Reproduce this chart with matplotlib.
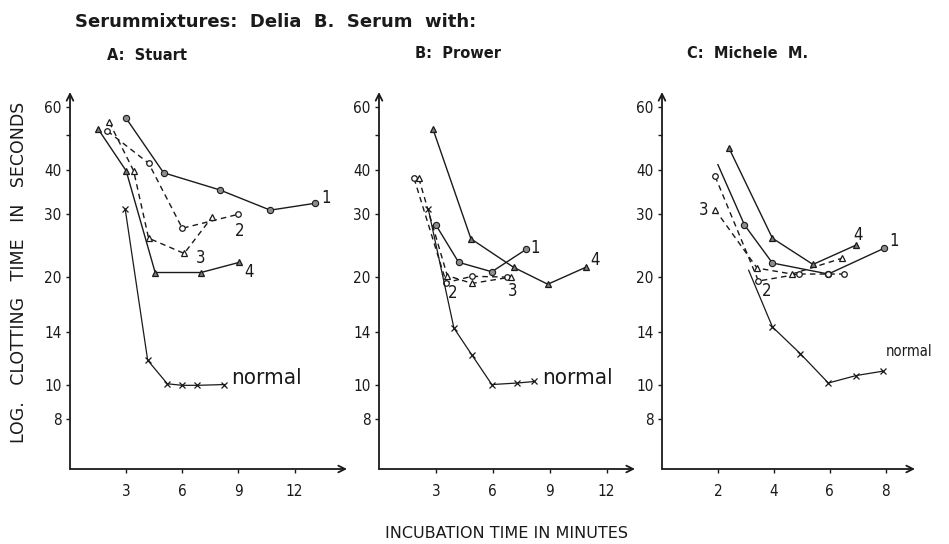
import matplotlib
matplotlib.use("Agg")
import matplotlib.pyplot as plt
from matplotlib.ticker import FixedLocator, NullLocator

# Panel A: Stuart
a_x1 = [3, 5, 8, 10.7, 13.1]
a_y1 = [55.7, 39.2, 35.1, 30.8, 32.2]
a_x2 = [2, 4.2, 6, 9]
a_y2 = [51.3, 41.7, 27.4, 30.0]
a_x3 = [2.1, 3.4, 4.2, 6.1, 7.6]
a_y3 = [54.3, 39.7, 25.7, 23.3, 29.5]
a_x4 = [1.5, 3.0, 4.55, 7.0, 9.05]
a_y4 = [52.0, 39.7, 20.6, 20.6, 22.0]
a_xn = [2.95, 4.15, 5.2, 6.0, 6.8, 8.25]
a_yn = [31.0, 11.7, 10.05, 9.95, 9.95, 10.0]

# Panel B: Prower
b_x1 = [3, 4.2, 5.95, 7.75]
b_y1 = [28.0, 22.0, 20.7, 23.9]
b_x2 = [1.85, 3.55, 4.9, 6.75]
b_y2 = [37.8, 19.3, 20.1, 20.0]
b_x3 = [2.1, 3.6, 4.9, 6.95]
b_y3 = [37.8, 20.2, 19.2, 20.0]
b_x4 = [2.85, 4.85, 7.1, 8.9, 10.9]
b_y4 = [51.9, 25.6, 21.3, 19.1, 21.3]
b_xn = [2.6, 3.95, 4.9, 5.95, 7.3, 8.2]
b_yn = [31.0, 14.4, 12.1, 10.0, 10.1, 10.2]

# Panel C: Michele M.
c_x1 = [2.0, 2.95, 3.95, 5.95, 7.95]
c_y1 = [41.3, 28.0, 21.9, 20.4, 24.1]
c_x2 = [1.9, 3.45, 4.9, 5.95, 6.5]
c_y2 = [38.3, 19.5, 20.4, 20.4, 20.4]
c_x3 = [1.9, 3.4, 4.65, 6.45]
c_y3 = [30.9, 21.2, 20.4, 22.6]
c_x4 = [2.4, 3.95, 5.4, 6.95]
c_y4 = [45.9, 25.7, 21.7, 24.6]
c_xn = [3.1, 3.95, 4.95, 5.95, 6.95, 7.9]
c_yn = [20.9, 14.5, 12.2, 10.1, 10.6, 10.9]

y_ticks = [8, 10, 14, 20, 30, 40, 60]
ab_xticks = [3, 6, 9, 12]
c_xticks = [2, 4, 6, 8]

ink = "#1a1a1a"
tick_font = dict(family="DejaVu Sans", stretch="condensed", size=11, color=ink)

fig = plt.figure(figsize=(9.49, 5.44), dpi=100)


def draw_series(ax, x, y, kind, skip_first=False):
    me = list(range(1, len(x))) if skip_first else None
    if kind == 1:
        ax.plot(x, y, "-", color=ink, lw=1.0, marker="o", ms=4.5, mfc="#8c8c8c",
                mec=ink, mew=0.8, markevery=me)
    elif kind == 2:
        ax.plot(x, y, "--", color=ink, lw=1.0, dashes=(4, 3), marker="o", ms=4,
                mfc="white", mec=ink, mew=0.9, markevery=me)
    elif kind == 3:
        ax.plot(x, y, "--", color=ink, lw=1.0, dashes=(4, 3), marker="^", ms=5,
                mfc="white", mec=ink, mew=0.9, markevery=me)
    elif kind == 4:
        ax.plot(x, y, "-", color=ink, lw=1.0, marker="^", ms=5, mfc="#7a7a7a",
                mec=ink, mew=0.9, markevery=me)
    else:
        ax.plot(x, y, "-", color=ink, lw=0.9, marker="x", ms=4, mec=ink, mew=0.9,
                markevery=me)


def setup(rect, xmax, xticks):
    ax = fig.add_axes(rect)
    ax.set_yscale("log")
    ax.set_ylim(5.8, 66)
    ax.set_xlim(0, xmax)
    for s in ax.spines.values():
        s.set_visible(False)
    ax.annotate("", xy=(1, 0), xytext=(0, 0), xycoords="axes fraction",
                arrowprops=dict(arrowstyle="->", color=ink, lw=1.3,
                                shrinkA=0, shrinkB=0, mutation_scale=12))
    ax.annotate("", xy=(0, 1), xytext=(0, 0), xycoords="axes fraction",
                arrowprops=dict(arrowstyle="->", color=ink, lw=1.3,
                                shrinkA=0, shrinkB=0, mutation_scale=12))
    ax.yaxis.set_major_locator(FixedLocator(y_ticks))
    ax.yaxis.set_minor_locator(FixedLocator([50]))
    ax.set_yticklabels([str(v) for v in y_ticks], fontdict=tick_font)
    ax.set_xticks(xticks)
    ax.set_xticklabels([str(v) for v in xticks], fontdict=tick_font)
    ax.xaxis.set_minor_locator(NullLocator())
    ax.tick_params(axis="both", which="both", length=3, width=1, color=ink)
    ax.tick_params(axis="x", pad=8)
    ax.tick_params(axis="y", pad=3)
    ax.set_facecolor("none")
    return ax


lab = dict(family="DejaVu Sans", stretch="condensed", color=ink)

# A
axA = setup([70 / 949, 1 - 469 / 544, 277 / 949, 377 / 544], 14.8, ab_xticks)
draw_series(axA, a_x1, a_y1, 1)
draw_series(axA, a_x2, a_y2, 2)
draw_series(axA, a_x3, a_y3, 3)
draw_series(axA, a_x4, a_y4, 4)
draw_series(axA, a_xn, a_yn, 0)
axA.text(13.7, 33.3, "1", size=12, ha="center", va="center", **lab)
axA.text(9.05, 26.9, "2", size=12, ha="center", va="center", **lab)
axA.text(6.95, 22.6, "3", size=12, ha="center", va="center", **lab)
axA.text(9.55, 20.7, "4", size=12, ha="center", va="center", **lab)
axA.text(8.6, 10.4, "normal", size=16, ha="left", va="center", **lab)

# B
axB = setup([379 / 949, 1 - 469 / 544, 256 / 949, 377 / 544], 13.5, ab_xticks)
draw_series(axB, b_x1, b_y1, 1)
draw_series(axB, b_x2, b_y2, 2)
draw_series(axB, b_x3, b_y3, 3)
draw_series(axB, b_x4, b_y4, 4)
draw_series(axB, b_xn, b_yn, 0)
axB.text(8.25, 24.1, "1", size=12, ha="center", va="center", **lab)
axB.text(11.4, 22.4, "4", size=12, ha="center", va="center", **lab)
axB.text(3.9, 18.1, "2", size=12, ha="center", va="center", **lab)
axB.text(7.05, 18.3, "3", size=12, ha="center", va="center", **lab)
axB.text(8.6, 10.4, "normal", size=16, ha="left", va="center", **lab)

# C
axC = setup([662 / 949, 1 - 469 / 544, 253 / 949, 377 / 544], 9.05, c_xticks)
draw_series(axC, c_x1, c_y1, 1, skip_first=True)
draw_series(axC, c_x2, c_y2, 2)
draw_series(axC, c_x3, c_y3, 3)
draw_series(axC, c_x4, c_y4, 4)
draw_series(axC, c_xn, c_yn, 0, skip_first=True)
axC.text(7.0, 26.2, "4", size=12, ha="center", va="center", **lab)
axC.text(8.3, 25.2, "1", size=12, ha="center", va="center", **lab)
axC.text(1.5, 30.9, "3", size=12, ha="center", va="center", **lab)
axC.text(3.75, 18.3, "2", size=12, ha="center", va="center", **lab)
axC.text(8.0, 12.4, "normal", size=10.5, ha="left", va="center", **lab)

# titles and axis labels
fig.text(75 / 949, 1 - 22 / 544, "Serummixtures:  Delia  B.  Serum  with:",
         fontsize=13, fontweight="bold", ha="left", va="center", color=ink)
fig.text(107 / 949, 1 - 55 / 544, "A:  Stuart", fontsize=10.5, fontweight="bold",
         ha="left", va="center", color=ink)
fig.text(415 / 949, 1 - 54 / 544, "B:  Prower", fontsize=10.5, fontweight="bold",
         ha="left", va="center", color=ink)
fig.text(687 / 949, 1 - 53 / 544, "C:  Michele  M.", fontsize=10.5, fontweight="bold",
         ha="left", va="center", color=ink)
fig.text(19 / 949, 1 - 272 / 544, "LOG.   CLOTTING   TIME   IN   SECONDS", rotation=90,
         fontsize=12.5, ha="center", va="center", color=ink)
fig.text(506 / 949, 1 - 533 / 544, "INCUBATION TIME IN MINUTES",
         fontsize=11.5, ha="center", va="center", color=ink)

fig.savefig("out.png", dpi=100)
